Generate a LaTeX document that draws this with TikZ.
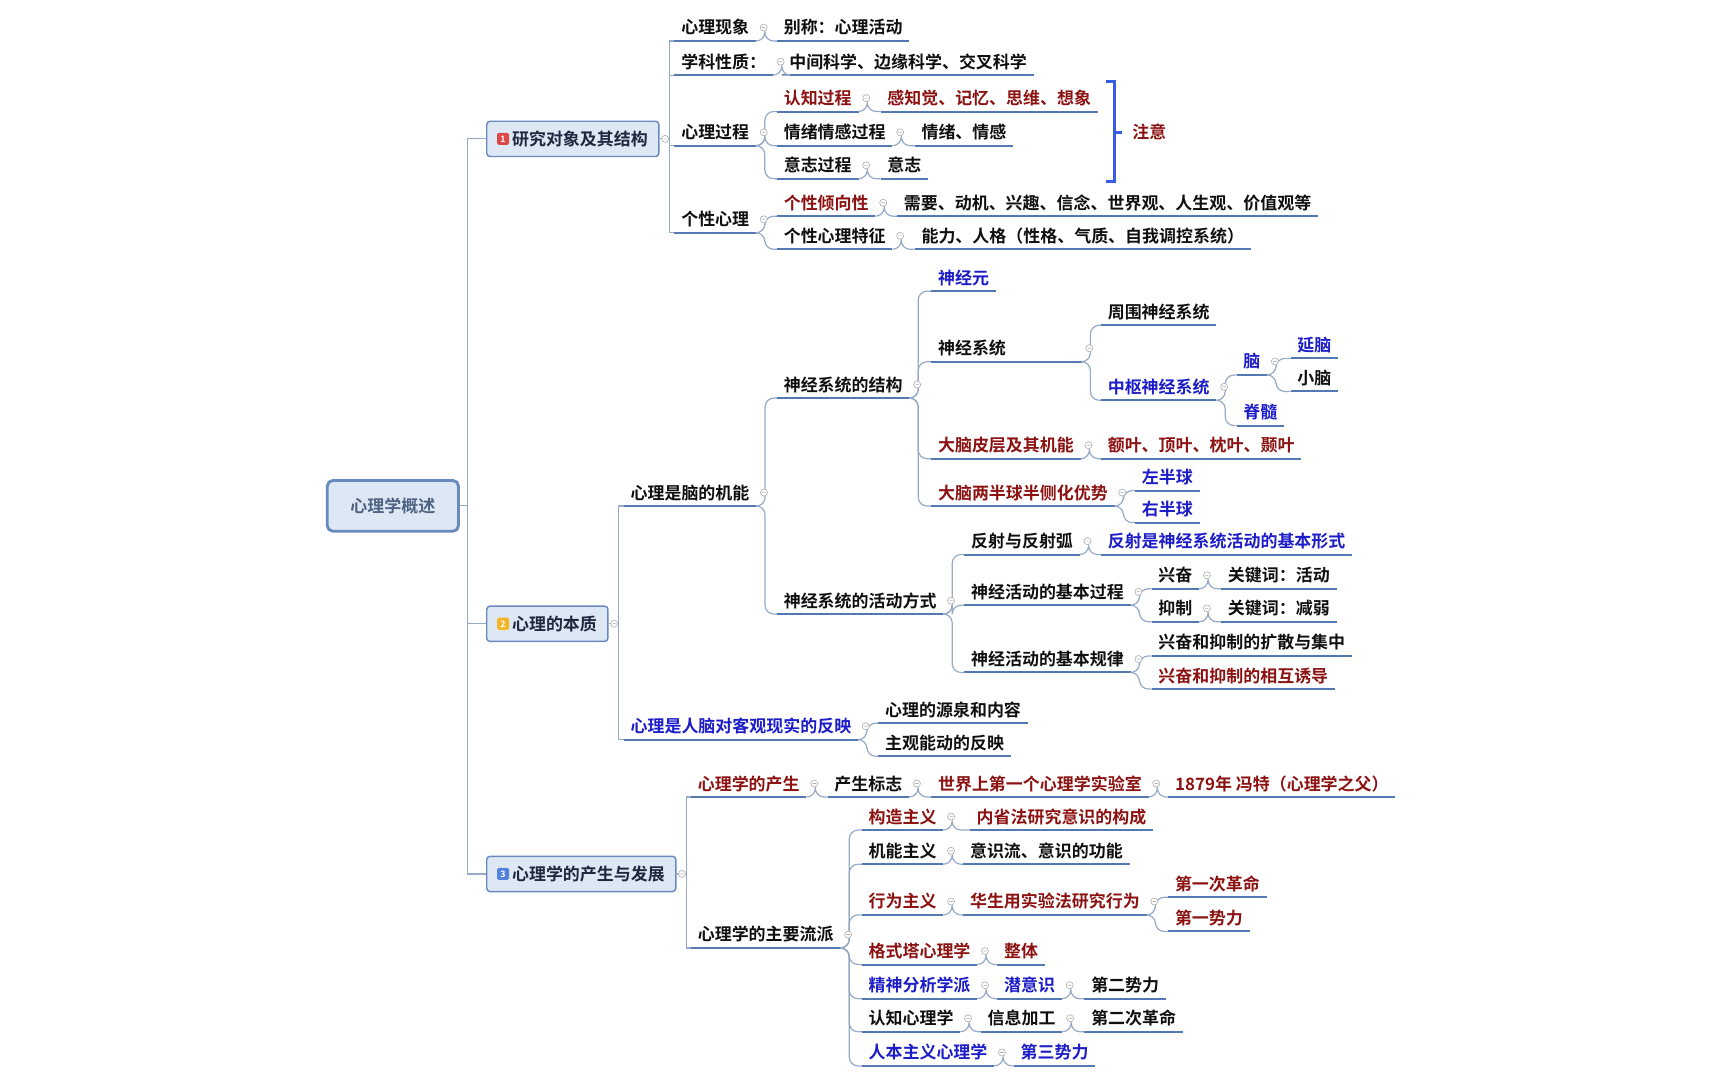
\documentclass[tikz,border=0pt]{standalone}
\usepackage{fontspec}
\setmainfont{Noto Sans CJK SC Bold}
\usepackage{tikz}

\definecolor{ulblue}{RGB}{84,120,176}
\definecolor{linkblue}{RGB}{150,170,200}
\definecolor{txtred}{RGB}{140,18,18}
\definecolor{txtblue}{RGB}{28,28,200}
\definecolor{txtblack}{RGB}{15,15,15}
\definecolor{boxfill}{RGB}{222,231,244}
\definecolor{boxline}{RGB}{104,138,190}
\definecolor{boxtext}{RGB}{30,40,62}
\definecolor{roottext}{RGB}{78,98,130}
\definecolor{bracketblue}{RGB}{58,92,225}
\definecolor{badgered}{RGB}{222,72,72}
\definecolor{badgeorange}{RGB}{242,182,40}
\definecolor{badgeblue}{RGB}{82,130,222}

\tikzset{
  uline/.style={append after command={(\tikzlastnode.south west) edge[draw=ulblue,line width=1.8pt] (\tikzlastnode.south east)}},
  item/.style={anchor=west, inner xsep=6pt, inner ysep=3.85pt, text height=14pt, text depth=2.3pt,
    font=\fontsize{15.4pt}{18pt}\selectfont, text=txtblack, uline},
  redtxt/.style={text=txtred},
  bluetxt/.style={text=txtblue},
  mainbox/.style={anchor=west, draw=boxline, fill=boxfill, line width=1.3pt, rounded corners=3pt,
    minimum height=32pt, inner xsep=10pt, text height=14pt, text depth=2.3pt, text=boxtext,
    font=\fontsize{15.4pt}{18pt}\selectfont},
  rootbox/.style={draw=boxline, fill=boxfill, line width=2.6pt, rounded corners=5pt,
    minimum width=119pt, minimum height=46pt, text height=14pt, text depth=2.3pt, text=roottext,
    font=\fontsize{15.4pt}{18pt}\selectfont},
  badge/.style={rounded corners=1.5pt, minimum size=11pt, inner sep=0pt, text=white,
    font=\fontsize{8pt}{8pt}\selectfont},
  trunk/.style={draw=linkblue, line width=1.1pt},
  link/.style={draw=linkblue, line width=1.1pt, rounded corners=8pt},
  foldmark/.style={draw=black!30, fill=white, line width=0.6pt},
  brace/.style={draw=bracketblue, line width=3pt}
}

\begin{document}
\begin{tikzpicture}[x=1pt,y=-1pt]
\useasboundingbox (0,0) rectangle (1568,980);

% root and the three main topics
\node[rootbox] (root) at (356.5,459) {心理学概述};
\node[mainbox] (m1) at (441,126) {\hspace*{13pt}研究对象及其结构};
\node[mainbox] (m2) at (441,566) {\hspace*{13pt}心理的本质};
\node[mainbox] (m3) at (441,793) {\hspace*{13pt}心理学的产生与发展};
\node[badge, fill=badgered] (n1) at ([xshift=15.5pt]m1.west) {1};
\node[badge, fill=badgeorange] (n2) at ([xshift=15.5pt]m2.west) {2};
\node[badge, fill=badgeblue] (n3) at ([xshift=15.5pt]m3.west) {3};

% branch 1
\node[item] (phen) at (612,25) {心理现象};
\node[item] (phenx) at (705,25) {别称：心理活动};
\node[item] (disc) at (612,56) {学科性质：};
\node[item] (discx) at (710,56) {中间科学、边缘科学、交叉科学};
\node[item] (proc) at (612,120) {心理过程};
\node[item,redtxt] (cog) at (705,89) {认知过程};
\node[item,redtxt] (cogx) at (799,89) {感知觉、记忆、思维、想象};
\node[item] (emo) at (705,120) {情绪情感过程};
\node[item] (emox) at (830,120) {情绪、情感};
\node[item] (will) at (705,150) {意志过程};
\node[item] (willx) at (799,150) {意志};
\node[item] (pers) at (612,199) {个性心理};
\node[item,redtxt] (tend) at (705,184) {个性倾向性};
\node[item] (tendx) at (814,184) {需要、动机、兴趣、信念、世界观、人生观、价值观等};
\node[item] (trait) at (705,214) {个性心理特征};
\node[item] (traitx) at (830,214) {能力、人格（性格、气质、自我调控系统）};

\coordinate (brtop) at (1004,74);
\coordinate (brbot) at (1004,165);
\coordinate (brtip) at (1018,120);
\draw[brace] (brtop) -- ++(7,0) -- ([xshift=7pt]brbot) -- (brbot);
\draw[brace] ([xshift=-7pt]brtip) -- (brtip);
\node[anchor=west, text=txtred, font=\fontsize{15.4pt}{18pt}\selectfont] (zhuyi) at (1024,120) {注意};

% branch 2
\node[item] (brain) at (566,447) {心理是脑的机能};
\node[item] (struct) at (705,349) {神经系统的结构};
\node[item,bluetxt] (neuron) at (845,252) {神经元};
\node[item,text width=124pt] (nsys) at (845,316) {神经系统};
\node[item] (peri) at (999,283) {周围神经系统};
\node[item,bluetxt] (cns) at (999,351) {中枢神经系统};
\node[item,bluetxt] (nao) at (1122,328) {脑};
\node[item,bluetxt] (yannao) at (1171,313) {延脑};
\node[item] (xiaonao) at (1171,343) {小脑};
\node[item,bluetxt] (jisui) at (1122,374) {脊髓};
\node[item,redtxt] (cortex) at (845,404) {大脑皮层及其机能};
\node[item,redtxt] (cortexx) at (999,404) {额叶、顶叶、枕叶、颞叶};
\node[item,redtxt] (hemi) at (845,447) {大脑两半球半侧化优势};
\node[item,bluetxt] (lhemi) at (1030,433) {左半球};
\node[item,bluetxt] (rhemi) at (1030,462) {右半球};
\node[item] (act) at (705,545) {神经系统的活动方式};
\node[item] (reflex) at (875,491) {反射与反射弧};
\node[item,bluetxt] (reflexx) at (999,491) {反射是神经系统活动的基本形式};
\node[item] (basproc) at (875,537) {神经活动的基本过程};
\node[item] (exc) at (1045,522) {兴奋};
\node[item] (excx) at (1108,522) {关键词：活动};
\node[item] (inh) at (1045,552) {抑制};
\node[item] (inhx) at (1108,552) {关键词：减弱};
\node[item] (law) at (875,598) {神经活动的基本规律};
\node[item] (spread) at (1045,583) {兴奋和抑制的扩散与集中};
\node[item,redtxt] (induce) at (1045,613) {兴奋和抑制的相互诱导};
\node[item,bluetxt] (mirror) at (566,659) {心理是人脑对客观现实的反映};
\node[item] (source) at (797,644) {心理的源泉和内容};
\node[item] (subj) at (797,674) {主观能动的反映};

% branch 3
\node[item,redtxt] (birth) at (627,711) {心理学的产生};
\node[item] (sign) at (751,711) {产生标志};
\node[item,redtxt] (lab) at (845,711) {世界上第一个心理学实验室};
\node[item,redtxt] (wundt) at (1060,711) {1879年 冯特（心理学之父）};
\node[item] (schools) at (627,848) {心理学的主要流派};
\node[item,redtxt] (struc) at (782,741) {构造主义};
\node[item,redtxt] (strucx) at (880,741) {内省法研究意识的构成};
\node[item] (func) at (782,772) {机能主义};
\node[item] (funcx) at (874,772) {意识流、意识的功能};
\node[item,redtxt] (behav) at (782,818) {行为主义};
\node[item,redtxt] (behavx) at (874,818) {华生用实验法研究行为};
\node[item,redtxt] (rev1) at (1060,802) {第一次革命};
\node[item,redtxt] (force1) at (1060,833) {第一势力};
\node[item,redtxt] (gest) at (782,863) {格式塔心理学};
\node[item,redtxt] (gestx) at (905,863) {整体};
\node[item,bluetxt] (psya) at (782,894) {精神分析学派};
\node[item,bluetxt] (psyax) at (905,894) {潜意识};
\node[item] (force2) at (984,894) {第二势力};
\node[item] (cogp) at (782,924) {认知心理学};
\node[item] (cogpx) at (890,924) {信息加工};
\node[item] (rev2) at (984,924) {第二次革命};
\node[item,bluetxt] (human) at (782,955) {人本主义心理学};
\node[item,bluetxt] (force3) at (920,955) {第三势力};

% connectors
\foreach \c in {m1,m2,m3}
  \draw[trunk] (root.east) -- ++(7,0) |- (\c.west);
\foreach \c in {phen,disc,proc,pers}
  \draw[trunk] (m1.east) -- ++(9,0) |- (\c.south west);
\foreach \c in {brain,mirror}
  \draw[trunk] (m2.east) -- ++(9,0) |- (\c.south west);
\foreach \c in {birth,schools}
  \draw[trunk] (m3.east) -- ++(9,0) |- (\c.south west);

\foreach \p/\c in {phen/phenx, disc/discx, proc/cog, proc/emo, proc/will, cog/cogx, emo/emox, will/willx,
    pers/tend, pers/trait, tend/tendx, trait/traitx,
    brain/struct, brain/act, struct/neuron, struct/nsys, struct/cortex, struct/hemi,
    nsys/peri, nsys/cns, cns/nao, cns/jisui, nao/yannao, nao/xiaonao, cortex/cortexx,
    hemi/lhemi, hemi/rhemi, act/reflex, act/basproc, act/law, reflex/reflexx,
    basproc/exc, basproc/inh, exc/excx, inh/inhx, law/spread, law/induce,
    mirror/source, mirror/subj,
    birth/sign, sign/lab, lab/wundt, schools/struc, schools/func, schools/behav, schools/gest,
    schools/psya, schools/cogp, schools/human, struc/strucx, func/funcx, behav/behavx,
    behavx/rev1, behavx/force1, gest/gestx, psya/psyax, psyax/force2, cogp/cogpx, cogpx/rev2,
    human/force3}
  \draw[link] (\p.south east) -- ++(8,0) |- (\c.south west);

% fold marks
\foreach \n in {m1,m2,m3}
  \draw[foldmark] ([xshift=5pt]\n.east) circle[radius=3.2pt] ([xshift=3.4pt]\n.east) -- ([xshift=6.6pt]\n.east);
\foreach \n in {phen,disc,proc,cog,emo,will,pers,tend,trait,brain,struct,nsys,cns,nao,cortex,hemi,
    act,reflex,basproc,exc,inh,law,mirror,birth,sign,lab,schools,struc,func,behav,behavx,gest,
    psya,psyax,cogp,cogpx,human}
  \draw[foldmark] ([xshift=7pt]\n.east) circle[radius=3.2pt] ([xshift=5.4pt]\n.east) -- ([xshift=8.6pt]\n.east);
\end{tikzpicture}
\end{document}
